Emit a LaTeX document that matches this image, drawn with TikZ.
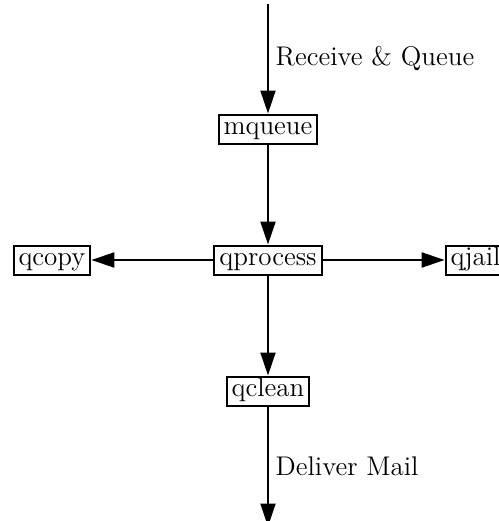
\documentclass[tikz,border=0pt]{standalone}
\usepackage{tikz}
\usetikzlibrary{arrows.meta, positioning}

\begin{document}
\begin{tikzpicture}[
    node distance=50pt and 61pt,
    every node/.style={font=\fontsize{13.5}{16}\selectfont},
    prog/.style={rectangle, draw=black, line width=1pt,
                 inner xsep=2.5pt, inner ysep=1.5pt,
                 text height=8.5pt, text depth=3pt},
    flow/.style={-{Triangle[length=11.5pt, width=7.5pt]}, line width=1pt},
]

%% --- Page frame (qjail runs off the right edge) ---
\clip (-134pt,-130.5pt) rectangle (115.5pt,130pt);

%% --- Queue programs ---
\node[prog] (qprocess) at (0,0) {qprocess};
\node[prog, above=of qprocess] (mqueue) {mqueue};
\node[prog, below=of qprocess] (qclean) {qclean};
\node[prog, left=of qprocess]  (qcopy)  {qcopy};
\node[prog, right=of qprocess] (qjail)  {qjail};

%% --- Mail in and out ---
\path (mqueue.north) ++(0,55pt) coordinate (in);
\path (qclean.south) ++(0,-60pt) coordinate (out);

%% --- Arrows ---
\draw[flow] (in) -- (mqueue.north)
    node[midway, right] {Receive \& Queue};
\draw[flow] (mqueue.south) -- (qprocess.north);
\draw[flow] (qprocess.west) -- (qcopy.east);
\draw[flow] (qprocess.east) -- (qjail.west);
\draw[flow] (qprocess.south) -- (qclean.north);
\draw[flow] (qclean.south) -- (out)
    node[midway, right] {Deliver Mail};

\end{tikzpicture}
\end{document}
